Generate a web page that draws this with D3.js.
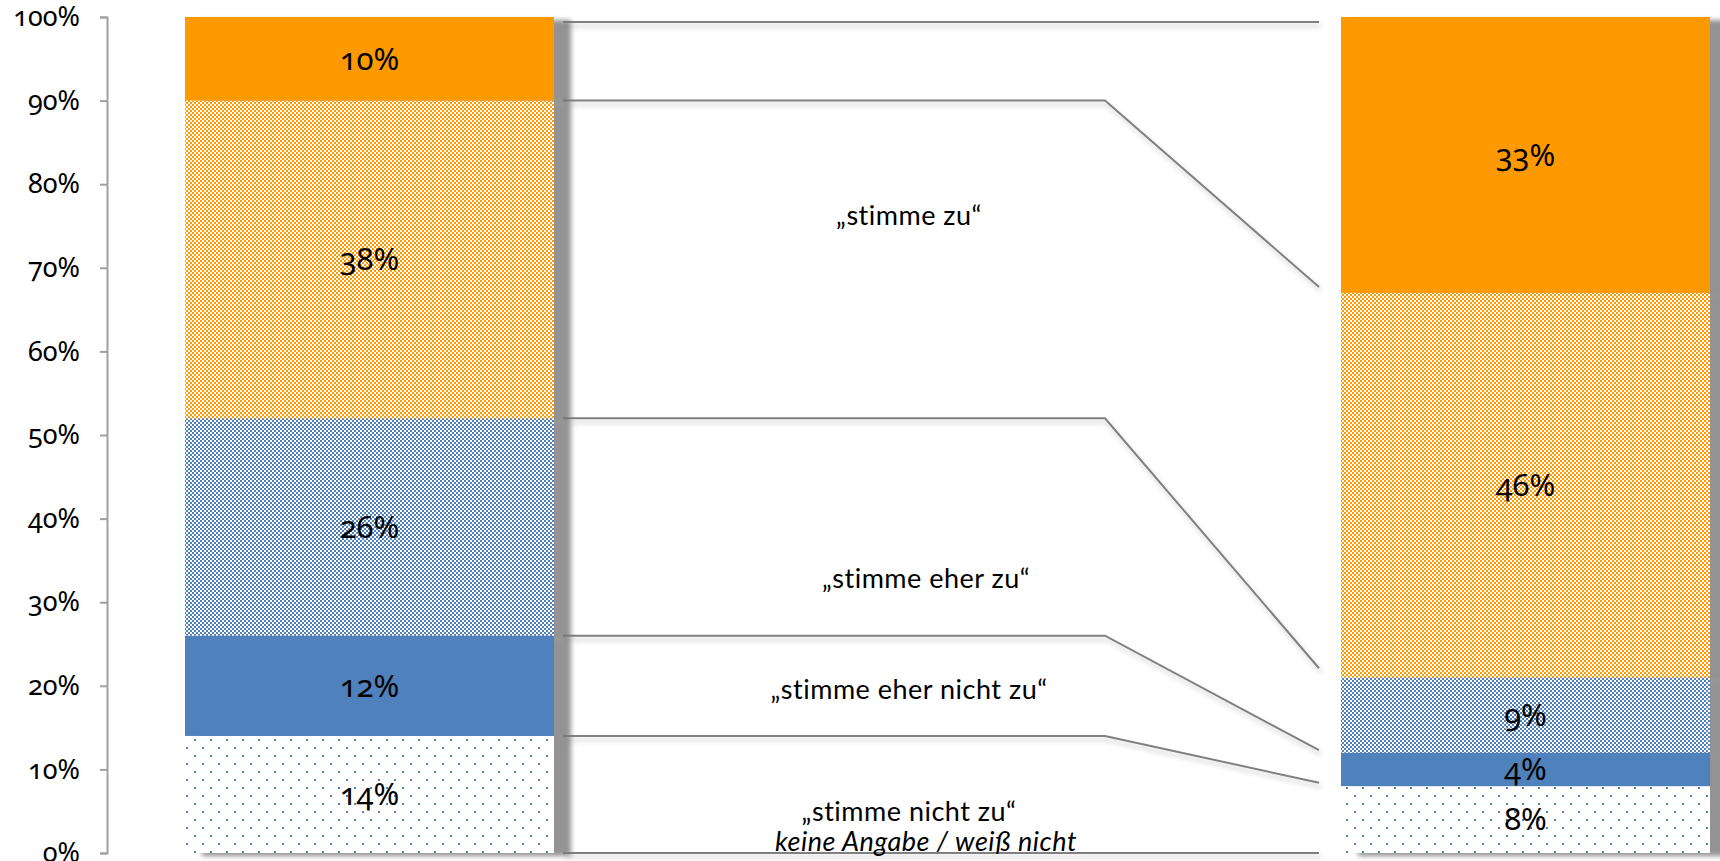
<!DOCTYPE html>
<html>
<head>
<meta charset="utf-8">
<script src="https://cdn.jsdelivr.net/npm/d3@7/dist/d3.min.js"></script>
<style>
  html, body { margin: 0; padding: 0; background: #ffffff; }
  svg { display: block; }
  .num { font-family: "Noto Sans", Lato, sans-serif; font-feature-settings: "onum" 1; font-variant-numeric: oldstyle-nums; }
  .cat { font-family: Lato, "Open Sans", sans-serif; letter-spacing: 0.5px; }
</style>
</head>
<body>
<svg id="chart" width="1720" height="861"></svg>
<script>
// ---------- data ----------
const categories = ["keine Angabe / weiß nicht", "\u201Estimme nicht zu\u201C", "\u201Estimme eher nicht zu\u201C", "\u201Estimme eher zu\u201C", "\u201Estimme zu\u201C"];
const leftValues  = [14, 12, 26, 38, 10];
const rightValues = [8, 4, 9, 46, 33];
const bars = ["left", "right"];
const yTicks = [0, 10, 20, 30, 40, 50, 60, 70, 80, 90, 100];
const tickLabels = ["0%", "10%", "20%", "30%", "40%", "50%", "60%", "70%", "80%", "90%", "100%"];
// connector lines (levels, in %)
const connectorLeft  = [0, 14, 26, 52, 90, 99.4];
const connectorRight = [0, 8.4, 12.3, 22.1, 67.7, 99.4];
// category annotation levels (centre of text, in %) in the middle area
const annotationLevels = [1.4, 4.9, 19.6, 32.8, 76.2];
const annotationItalic = [true, false, false, false, false];

// ---------- layout ----------
const svg = d3.select("#chart");
const W = 1720, H = 861;
const y = d3.scaleLinear().domain([0, 100]).range([853, 17]);
const x = d3.scaleOrdinal().domain(bars).range([185, 1341]);
const barW = 369;
const kneeX = 1105, lineStartX = 563, lineEndX = 1319;
const midX = [926, 909, 909, 926, 909];

const colors = {
  orange: "#FF9900",
  blue: "#4F81BD"
};

const defs = svg.append("defs");
function checker(id, color) {
  const p = defs.append("pattern").attr("id", id).attr("patternUnits", "userSpaceOnUse")
    .attr("width", 4).attr("height", 4);
  p.append("rect").attr("width", 4).attr("height", 4).attr("fill", "#fff");
  p.append("rect").attr("x", 0).attr("y", 0).attr("width", 2).attr("height", 2).attr("fill", color);
  p.append("rect").attr("x", 2).attr("y", 2).attr("width", 2).attr("height", 2).attr("fill", color);
}
checker("chkOrange", colors.orange);
checker("chkBlue", colors.blue);
const dp = defs.append("pattern").attr("id", "dots").attr("patternUnits", "userSpaceOnUse")
  .attr("width", 16).attr("height", 16).attr("x", 2).attr("y", 3);
dp.append("rect").attr("width", 16).attr("height", 16).attr("fill", "#fff");
dp.append("rect").attr("x", 0).attr("y", 0).attr("width", 2).attr("height", 2).attr("fill", colors.blue);
dp.append("rect").attr("x", 8).attr("y", 8).attr("width", 2).attr("height", 2).attr("fill", colors.blue);

const fb = defs.append("filter").attr("id", "barShadow").attr("x", "-10%").attr("y", "-10%").attr("width", "130%").attr("height", "120%");
fb.append("feDropShadow").attr("dx", 17).attr("dy", 3).attr("stdDeviation", 2.5)
  .attr("flood-color", "#777").attr("flood-opacity", 0.8);
const fl = defs.append("filter").attr("id", "lineShadow").attr("filterUnits", "userSpaceOnUse")
  .attr("x", 0).attr("y", 0).attr("width", W).attr("height", H);
fl.append("feDropShadow").attr("dx", 2).attr("dy", 4).attr("stdDeviation", 2.5)
  .attr("flood-color", "#000").attr("flood-opacity", 0.22);

const fills = ["url(#dots)", colors.blue, "url(#chkBlue)", "url(#chkOrange)", colors.orange];

// ---------- connector lines ----------
const lineGen = d3.line();
const gLines = svg.append("g").attr("filter", "url(#lineShadow)");
connectorLeft.forEach((lv, i) => {
  const rv = connectorRight[i];
  gLines.append("path")
    .attr("d", lineGen([[lineStartX, y(lv)], [kneeX, y(lv)], [lineEndX, y(rv)]]))
    .attr("fill", "none").attr("stroke", "#808080").attr("stroke-width", 2);
});

// ---------- bars ----------
function stack(values) {
  let acc = 0;
  return values.map((v, i) => { const d = { i, v, y0: acc, y1: acc + v }; acc += v; return d; });
}
const series = { left: stack(leftValues), right: stack(rightValues) };

bars.forEach(b => {
  const g = svg.append("g").attr("filter", "url(#barShadow)");
  g.selectAll("rect").data(series[b]).join("rect")
    .attr("x", x(b)).attr("width", barW)
    .attr("y", d => y(d.y1)).attr("height", d => y(d.y0) - y(d.y1))
    .attr("fill", d => fills[d.i]);
});
bars.forEach(b => {
  svg.append("g").selectAll("text").data(series[b]).join("text")
    .attr("class", "num")
    .attr("x", x(b) + barW / 2)
    .attr("y", d => y((d.y0 + d.y1) / 2))
    .attr("dy", "0.35em")
    .attr("text-anchor", "middle")
    .attr("font-size", 31)
    .attr("fill", "#000")
    .text(d => d.v + "%");
});

// ---------- axis ----------
const axis = d3.axisLeft(y).tickValues(yTicks).tickSize(7).tickPadding(20)
  .tickFormat((d, i) => tickLabels[i]);
const ga = svg.append("g").attr("transform", "translate(107,0)").call(axis);
ga.select(".domain").attr("stroke", "#a0a0a0").attr("stroke-width", 2);
ga.selectAll(".tick line").attr("stroke", "#a0a0a0").attr("stroke-width", 2);
ga.selectAll(".tick text").attr("class", "num").attr("font-size", 27).attr("fill", "#000");

// ---------- category annotations ----------
svg.append("g").selectAll("text").data(categories).join("text")
  .attr("class", "cat")
  .attr("x", (d, i) => midX[i])
  .attr("y", (d, i) => y(annotationLevels[i]))
  .attr("dy", "0.35em")
  .attr("text-anchor", "middle")
  .attr("font-size", 27)
  .attr("font-style", (d, i) => annotationItalic[i] ? "italic" : "normal")
  .attr("fill", "#000")
  .text(d => d);
</script>
</body>
</html>
